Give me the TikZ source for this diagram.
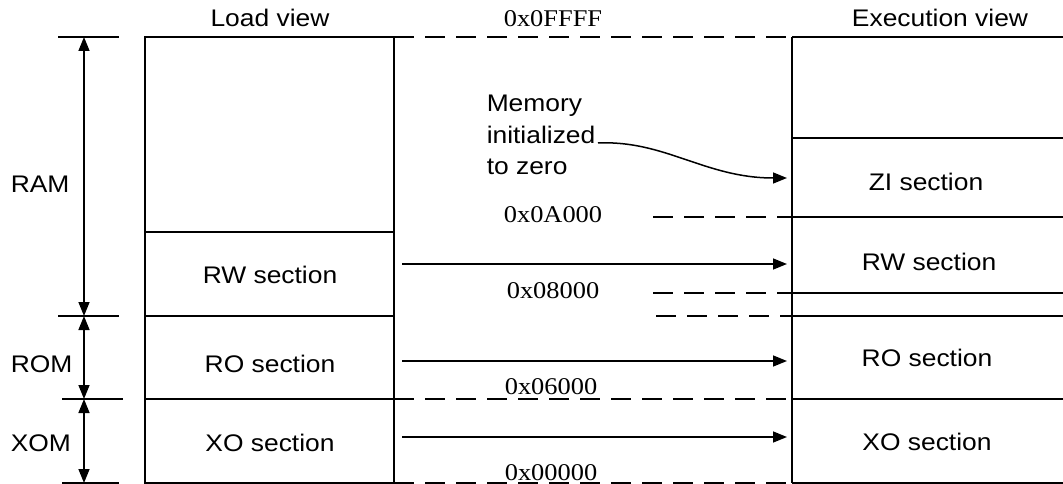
\documentclass[tikz,border=0pt]{standalone}
\usepackage{fontspec}
\setmainfont{Liberation Serif}[FakeStretch=1.1]
\setsansfont{Liberation Sans}[FakeStretch=1.1]
\usetikzlibrary{arrows.meta}
\begin{document}
\begin{tikzpicture}[x=1pt,y=-1pt, line width=1.5pt,
  lbl/.style={font=\sffamily\fontsize{24}{31.5}\selectfont, inner sep=0pt, anchor=base},
  hex/.style={font=\rmfamily\fontsize{24}{30}\selectfont, inner sep=0pt, anchor=base},
  sect/.style={draw, minimum width=249pt, minimum height=#1, inner sep=0pt, outer sep=0pt},
  dsh/.style={dash pattern=on 20pt off 11pt},
  arr/.style={-{Triangle[length=14pt,width=11pt]}},
  dim/.style={{Triangle[length=14pt,width=11pt]}-{Triangle[length=14pt,width=11pt]}}]
\useasboundingbox (0,0) rectangle (1063,484);
% load view boxes
\node[sect=195pt] (freeL) at (269.5,134.5) {};
\node[sect=84pt]  (rwL)   at (269.5,274) {};
\node[sect=83pt]  (roL)   at (269.5,357.5) {};
\node[sect=84pt]  (xoL)   at (269.5,441) {};
% execution view corners
\coordinate (eTop) at (792,37);
\coordinate (eTopR) at (1063,37);
\coordinate (eBot) at (792,483);
\coordinate (eBotR) at (1063,483);
\coordinate (e1) at (792,138);  \coordinate (e1R) at (1063,138);
\coordinate (e2) at (792,217);  \coordinate (e2R) at (1063,217);
\coordinate (e3) at (792,293);  \coordinate (e3R) at (1063,293);
\coordinate (e4) at (792,316);  \coordinate (e4R) at (1063,316);
\coordinate (e5) at (792,399);  \coordinate (e5R) at (1063,399);
\draw (eTop) -- (eBot);
\draw (eTop) -- (eTopR);
\draw (e1) -- (e1R);
\draw (e2) -- (e2R);
\draw (e3) -- (e3R);
\draw (e4) -- (e4R);
\draw (e5) -- (e5R);
\draw (eBot) -- (eBotR);
% dashed address lines
\coordinate (d2) at (653,217);
\coordinate (d3) at (653,293);
\coordinate (d4) at (656,316);
\draw[dsh] (freeL.north east) -- (eTop);
\draw[dsh] (d2) -- (e2);
\draw[dsh] (d3) -- (e3);
\draw[dsh] (d4) -- (e4);
\draw[dsh] (xoL.north east) -- (e5);
\draw[dsh] (xoL.south east) -- (eBot);
% dimension ticks and arrows
\coordinate (t1a) at (58,37);  \coordinate (t1b) at (119,37);
\coordinate (t2a) at (58,316); \coordinate (t2b) at (119,316);
\coordinate (t3a) at (62,399); \coordinate (t3b) at (123,399);
\coordinate (t4a) at (62,483); \coordinate (t4b) at (119,483);
\draw (t1a) -- (t1b);
\draw (t2a) -- (t2b);
\draw (t3a) -- (t3b);
\draw (t4a) -- (t4b);
\coordinate (v1) at (84,37);
\coordinate (v2) at (84,316);
\coordinate (v3) at (84,399);
\coordinate (v4) at (84,483);
\draw[dim] (v1) -- (v2);
\draw[dim] (v2) -- (v3);
\draw[dim] (v3) -- (v4);
% texts
\node[lbl] (lv) at (270,27) {Load view};
\node[lbl] (ev) at (940,27) {Execution view};
\node[lbl, anchor=base west] (ram) at (10,193) {RAM};
\node[lbl, anchor=base west] (rom) at (10,372) {ROM};
\node[lbl, anchor=base west] (xom) at (10,451) {XOM};
\node[lbl] (rwLt) at (270,283) {RW section};
\node[lbl] (roLt) at (270,372) {RO section};
\node[lbl] (xoLt) at (270,451) {XO section};
\node[lbl] (zit)  at (926,190) {ZI section};
\node[lbl] (rwRt) at (929,270) {RW section};
\node[lbl] (roRt) at (927,366) {RO section};
\node[lbl] (xoRt) at (927,450) {XO section};
\node[hex] (h1) at (553,27)  {0x0FFFF};
\node[hex] (h2) at (553,222) {0x0A000};
\node[hex] (h3) at (553,298) {0x08000};
\node[hex] (h4) at (551,394) {0x06000};
\node[hex] (h5) at (551,480) {0x00000};
\node[lbl, anchor=base west, align=left] (mem) at (486,175) {Memory\\initialized\\to zero};
% arrows
\coordinate (a1s) at (402,264); \coordinate (a1e) at (787,264);
\coordinate (a2s) at (402,361); \coordinate (a2e) at (787,361);
\coordinate (a3s) at (402,437); \coordinate (a3e) at (787,437);
\draw[arr] (a1s) -- (a1e);
\draw[arr] (a2s) -- (a2e);
\draw[arr] (a3s) -- (a3e);
\coordinate (cs) at (598,143);
\coordinate (ce) at (787,178);
\draw[arr] (cs) .. controls (665,140) and (705,178) .. (ce);
\end{tikzpicture}
\end{document}
